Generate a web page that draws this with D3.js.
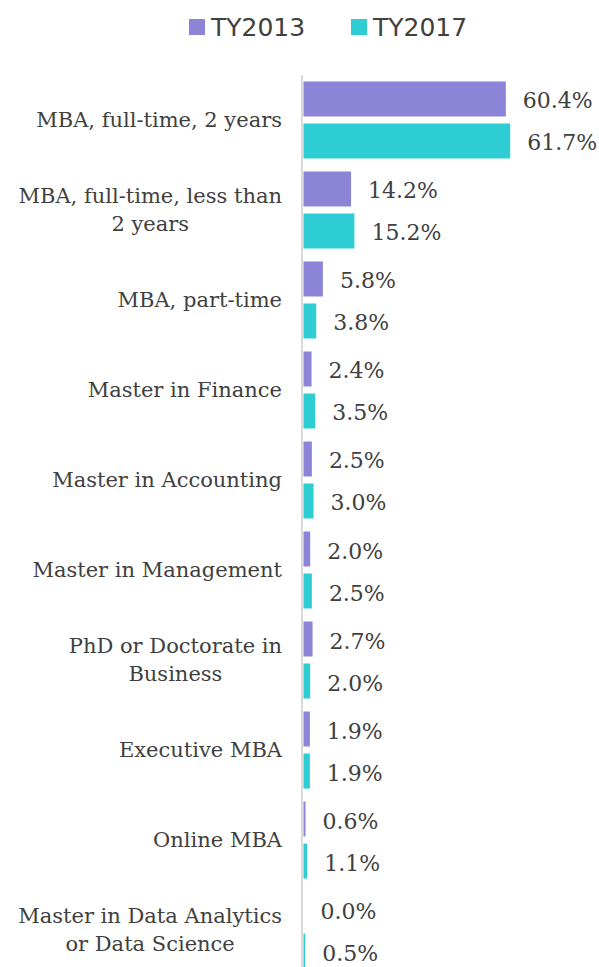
<!DOCTYPE html>
<html>
<head>
<meta charset="utf-8">
<script src="https://cdn.jsdelivr.net/npm/d3@7"></script>
<style>
  body { margin: 0; background: #fff; }
  svg { display: block; }
</style>
</head>
<body>
<svg id="chart" width="599" height="967"></svg>
<script>
const categories = [
  "MBA, full-time, 2 years",
  "MBA, full-time, less than 2 years",
  "MBA, part-time",
  "Master in Finance",
  "Master in Accounting",
  "Master in Management",
  "PhD or Doctorate in Business",
  "Executive MBA",
  "Online MBA",
  "Master in Data Analytics or Data Science"
];
const seriesNames = ["TY2013", "TY2017"];
const ty2013 = [60.4, 14.2, 5.8, 2.4, 2.5, 2.0, 2.7, 1.9, 0.6, 0.0];
const ty2017 = [61.7, 15.2, 3.8, 3.5, 3.0, 2.5, 2.0, 1.9, 1.1, 0.5];
const colors = ["#8b84d7", "#2ecdd3"];

const svg = d3.select("#chart");
const textColor = "#404040";
const serif = "'DejaVu Serif', serif";

const rows = categories.map((c, i) => ({ cat: c, values: [ty2013[i], ty2017[i]] }));

const x = d3.scaleLinear().domain([0, 70]).range([303.5, 538]);
const y0 = d3.scaleBand()
  .domain(categories)
  .range([75, 975])
  .paddingInner(13 / 90)
  .paddingOuter(0.072);
const y1 = d3.scaleBand()
  .domain(seriesNames)
  .range([0, y0.bandwidth()])
  .paddingInner(7 / 42);

// legend
const legend = svg.append("g");
const legendX = [189, 351];
seriesNames.forEach((s, i) => {
  legend.append("rect")
    .attr("x", legendX[i]).attr("y", 19)
    .attr("width", 16).attr("height", 16)
    .attr("fill", colors[i]);
  legend.append("text")
    .attr("x", legendX[i] + 22).attr("y", 27)
    .attr("dominant-baseline", "central")
    .attr("font-family", "'DejaVu Sans', sans-serif")
    .attr("font-size", 25)
    .attr("fill", textColor)
    .text(s);
});

// bars
const groups = svg.append("g").selectAll("g")
  .data(rows)
  .join("g")
  .attr("transform", d => `translate(0,${y0(d.cat)})`);

groups.selectAll("rect")
  .data(d => d.values.map((v, i) => ({ s: seriesNames[i], v, i })))
  .join("rect")
  .attr("x", x(0))
  .attr("y", d => y1(d.s))
  .attr("width", d => x(d.v) - x(0))
  .attr("height", y1.bandwidth())
  .attr("fill", d => colors[d.i]);

groups.selectAll("text.value")
  .data(d => d.values.map((v, i) => ({ s: seriesNames[i], v, i })))
  .join("text")
  .attr("class", "value")
  .attr("x", d => x(d.v) + 17)
  .attr("y", d => y1(d.s) + y1.bandwidth() / 2 + 2)
  .attr("dominant-baseline", "central")
  .attr("font-family", serif)
  .attr("font-size", 22)
  .attr("fill", textColor)
  .text(d => d.v.toFixed(1) + "%");

// axis line
svg.append("line")
  .attr("x1", 302).attr("x2", 302)
  .attr("y1", 75).attr("y2", 967)
  .attr("stroke", "#d9d9d9")
  .attr("stroke-width", 2);

// category labels, wrapped and centred line by line
const labelRight = 282;
const maxWidth = 272;
const lineH = 28;
const labels = svg.append("g")
  .attr("font-family", serif)
  .attr("font-size", 21)
  .attr("fill", textColor);

categories.forEach(c => {
  const t = labels.append("text").attr("text-anchor", "middle");
  const words = c.split(" ");
  const lines = [];
  let cur = [];
  const probe = t.append("tspan");
  words.forEach(w => {
    const tryLine = cur.concat(w).join(" ");
    probe.text(tryLine);
    if (probe.node().getComputedTextLength() > maxWidth && cur.length) {
      lines.push(cur.join(" "));
      cur = [w];
    } else {
      cur.push(w);
    }
  });
  lines.push(cur.join(" "));
  probe.remove();

  const widths = lines.map(l => {
    const tmp = t.append("tspan").text(l);
    const wd = tmp.node().getComputedTextLength();
    tmp.remove();
    return wd;
  });
  const cx = labelRight - d3.max(widths) / 2;
  const cy = y0(c) + y0.bandwidth() / 2;
  lines.forEach((l, i) => {
    t.append("tspan")
      .attr("x", cx)
      .attr("y", cy + (i - (lines.length - 1) / 2) * lineH)
      .attr("dominant-baseline", "central")
      .text(l);
  });
});
</script>
</body>
</html>
